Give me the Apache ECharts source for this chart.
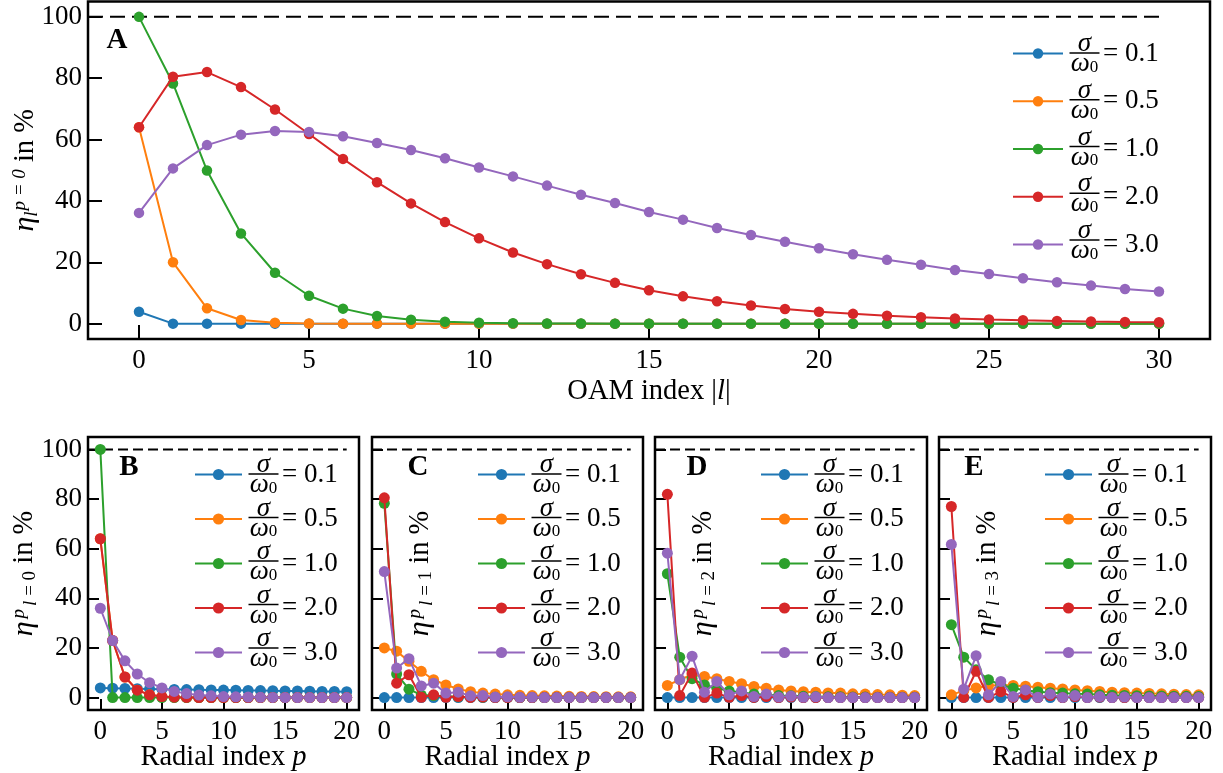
<!DOCTYPE html>
<html><head><meta charset="utf-8">
<script src="https://cdn.jsdelivr.net/npm/echarts@6/dist/echarts.min.js"></script>
<style>html,body{margin:0;padding:0;background:#fff}#c{width:1223px;height:773px}</style>
</head><body><div id="c"></div>
<script>
// ---------------- data ----------------
const ratioLabels = ['0.1', '0.5', '1.0', '2.0', '3.0'];
const colors = ['#1f77b4', '#ff7f0e', '#2ca02c', '#d62728', '#9467bd'];
const oamIndex = [0,1,2,3,4,5,6,7,8,9,10,11,12,13,14,15,16,17,18,19,20,21,22,23,24,25,26,27,28,29,30];
const radialIndex = [0,1,2,3,4,5,6,7,8,9,10,11,12,13,14,15,16,17,18,19,20];
const xTicksA = [0, 5, 10, 15, 20, 25, 30];
const xTicksP = [0, 5, 10, 15, 20];
const yTicks = [0, 20, 40, 60, 80, 100];

// Panel A: eta_l^{p=0} vs |l|
const a01 = [3.9,0,0,0,0,0,0,0,0,0,0,0,0,0,0,0,0,0,0,0,0,0,0,0,0,0,0,0,0,0,0];
const a05 = [64,20,5.0,1.2,0.3,0.07,0,0,0,0,0,0,0,0,0,0,0,0,0,0,0,0,0,0,0,0,0,0,0,0,0];
const a10 = [100,78.3,49.9,29.4,16.6,9.1,4.9,2.5,1.3,0.6,0.3,0.15,0.07,0.03,0,0,0,0,0,0,0,0,0,0,0,0,0,0,0,0,0];
const a20 = [64,80.5,82,77.1,69.8,61.8,53.7,46.1,39.2,33.1,27.8,23.2,19.4,16.1,13.3,10.9,8.9,7.3,5.9,4.8,3.9,3.2,2.6,2.1,1.7,1.35,1.1,0.9,0.72,0.58,0.47];
const a30 = [36.1,50.6,58.2,61.6,62.8,62.5,61.1,58.9,56.6,53.9,50.9,48.0,45.0,42.0,39.3,36.4,33.9,31.2,28.9,26.7,24.6,22.6,20.8,19.2,17.5,16.2,14.8,13.5,12.4,11.3,10.5];

// Panel B: l = 0
const b01 = [3.9,3.8,3.7,3.6,3.5,3.4,3.3,3.25,3.2,3.1,3.05,3.0,2.9,2.85,2.8,2.7,2.65,2.6,2.5,2.45,2.4];
const b05 = [64,23,8.3,3.0,1.1,0.4,0.15,0.05,0,0,0,0,0,0,0,0,0,0,0,0,0];
const b10 = [100,0,0,0,0,0,0,0,0,0,0,0,0,0,0,0,0,0,0,0,0];
const b20 = [64,23,8.3,3.0,1.1,0.4,0.15,0.05,0,0,0,0,0,0,0,0,0,0,0,0,0];
const b30 = [36,23,14.8,9.5,6.0,3.9,2.5,1.6,1.0,0.7,0.4,0.3,0.2,0.1,0.07,0.04,0,0,0,0,0];

// Panel C: l = 1
const c01 = [0,0,0,0,0,0,0,0,0,0,0,0,0,0,0,0,0,0,0,0,0];
const c05 = [20,18.7,14.6,10.6,7.2,5.1,3.5,2.4,1.8,1.4,1.1,0.9,0.8,0.7,0.6,0.5,0.45,0.4,0.35,0.3,0.3];
const c10 = [78.3,9.5,3.4,1.0,0.8,0.5,0.3,0.2,0.15,0.1,0.1,0,0,0,0,0,0,0,0,0,0];
const c20 = [80.5,5.8,9.2,0.1,1.1,0.1,0.4,0.05,0.2,0,0,0,0,0,0,0,0,0,0,0,0];
const c30 = [50.8,11.9,15.7,4.7,5.8,1.8,2.2,0.7,0.8,0.2,0.3,0.1,0.1,0,0,0,0,0,0,0,0];

// Panel D: l = 2
const d01 = [0,0,0,0,0,0,0,0,0,0,0,0,0,0,0,0,0,0,0,0,0];
const d05 = [4.9,7.2,9.2,8.5,7.6,6.5,5.6,4.5,3.8,3.1,2.7,2.4,2.2,1.9,1.8,1.5,1.4,1.2,1.1,0.95,0.8];
const d10 = [49.9,16.3,7.6,5.1,3.8,2.7,2.2,1.4,1.1,0.8,0.7,0.5,0.4,0.3,0.3,0.2,0.2,0.15,0.1,0.1,0.1];
const d20 = [81.9,0.8,9.9,0.1,1.8,0.1,0.8,0.05,0.4,0,0.2,0,0,0,0,0,0,0,0,0,0];
const d30 = [58.2,7.2,16.7,2.2,6.5,1.1,2.7,0.4,1.4,0.2,0.6,0.1,0.3,0,0,0,0,0,0,0,0];

// Panel E: l = 3
const e01 = [0,0,0,0,0,0,0,0,0,0,0,0,0,0,0,0,0,0,0,0,0];
const e05 = [1.1,2.8,3.9,4.8,5.1,4.9,4.6,4.2,3.8,3.5,3.1,2.8,2.5,2.2,2.0,1.8,1.65,1.5,1.35,1.2,1.1];
const e10 = [29.4,16.3,11.2,7.2,5.1,3.8,3.0,2.4,2.0,1.8,1.5,1.4,1.1,0.95,0.85,0.75,0.65,0.6,0.55,0.5,0.45];
const e20 = [77.0,0.05,10.6,0.05,2.4,0.05,1.1,0.05,0.8,0,0.4,0,0.2,0,0,0,0,0,0,0,0];
const e30 = [61.7,3.4,16.9,1.1,6.5,0.4,3.1,0.1,1.4,0.05,0.8,0,0.4,0,0.2,0,0,0,0,0,0];

// ---------------- layout ----------------
const FONT = '"Liberation Serif", "DejaVu Serif", serif';
const TICK_FS = 27, LABEL_FS = 28.5, LEG_FS = 27;
const panels = [
  {x: oamIndex, sets: [a01,a05,a10,a20,a30], grid: {left: 88, top: 1.5, width: 1122, height: 337.5},
   xmin: -1.5, xmax: 31.5, xEnd: 30, xticks: xTicksA, sym: 10.5, dash: [15, 7], tick: 14,
   letter: 'A', letterPos: [117, 41], legend: {left: 1012, top: 40, pitch: 46.75, w: 50, h: 13}},
  {x: radialIndex, sets: [b01,b05,b10,b20,b30], grid: {left: 88, top: 437, width: 271, height: 273},
   xmin: -1, xmax: 21, xEnd: 20, xticks: xTicksP, sym: 11, dash: [10, 5], tick: 11,
   letter: 'B', letterPos: [129, 468], legend: {left: 194, top: 461, pitch: 43.5, w: 47, h: 14}},
  {x: radialIndex, sets: [c01,c05,c10,c20,c30], grid: {left: 372, top: 437, width: 271, height: 273},
   xmin: -1, xmax: 21, xEnd: 20, xticks: xTicksP, sym: 11, dash: [10, 5], tick: 11,
   letter: 'C', letterPos: [418, 468], legend: {left: 477, top: 461, pitch: 43.5, w: 47, h: 14}},
  {x: radialIndex, sets: [d01,d05,d10,d20,d30], grid: {left: 655, top: 437, width: 272, height: 273},
   xmin: -1, xmax: 21, xEnd: 20, xticks: xTicksP, sym: 11, dash: [10, 5], tick: 11,
   letter: 'D', letterPos: [697, 468], legend: {left: 760, top: 461, pitch: 43.5, w: 47, h: 14}},
  {x: radialIndex, sets: [e01,e05,e10,e20,e30], grid: {left: 939, top: 437, width: 272, height: 273},
   xmin: -1, xmax: 21, xEnd: 20, xticks: xTicksP, sym: 11, dash: [10, 5], tick: 11,
   letter: 'E', letterPos: [974, 468], legend: {left: 1044, top: 461, pitch: 43.5, w: 47, h: 14}}
];
const yNames = [
  {text: '{e|η}{sbA|l}{su|p = 0}{n| in %}', gap: 47},
  {text: '{e|η}{su|p}{sbi|l}{sb| = 0}{n| in %}', gap: 48},
  {text: '{e|η}{su|p}{sbi|l}{sb| = 1}{n| in %}', gap: -64},
  {text: '{e|η}{su|p}{sbi|l}{sb| = 2}{n| in %}', gap: -64},
  {text: '{e|η}{su|p}{sbi|l}{sb| = 3}{n| in %}', gap: -64}
];
const yRich = {
  e: {fontFamily: FONT, fontStyle: 'italic', fontSize: 30, lineHeight: 31, color: '#000'},
  su: {fontFamily: FONT, fontStyle: 'italic', fontSize: 19, lineHeight: 17, verticalAlign: 'top', color: '#000', padding: [0, 0, 0, 3]},
  sbi: {fontFamily: FONT, fontStyle: 'italic', fontSize: 19, lineHeight: 17, verticalAlign: 'bottom', color: '#000', padding: [0, 0, 0, 3]},
  sb: {fontFamily: FONT, fontSize: 19, lineHeight: 17, verticalAlign: 'bottom', color: '#000'},
  sbA: {fontFamily: FONT, fontStyle: 'italic', fontSize: 19, lineHeight: 17, verticalAlign: 'bottom', color: '#000', width: 1, padding: [0, 0, 0, 2]},
  n: {fontFamily: FONT, fontSize: LABEL_FS, lineHeight: 31, color: '#000'}
};

const grids = [], xAxes = [], yAxes = [], series = [], legends = [], graphics = [];
const ROW_H = 26; // legend text row height used by the legend box layout
panels.forEach((p, gi) => {
  grids.push(Object.assign({show: true, borderColor: '#000', borderWidth: 2.5, backgroundColor: 'transparent',
    containLabel: false, outerBoundsMode: 'none'}, p.grid));
  const tickStyle = {show: true, inside: true, length: p.tick, lineStyle: {color: '#000', width: 2}};
  xAxes.push({
    gridIndex: gi, type: 'value', min: p.xmin, max: p.xmax,
    axisLine: {show: false, onZero: false}, splitLine: {show: false},
    axisTick: Object.assign({customValues: p.xticks}, tickStyle),
    axisLabel: {customValues: p.xticks, fontFamily: FONT, fontSize: TICK_FS, color: '#000', margin: 8},
    name: gi === 0 ? '{n|OAM index |}{i|l}{n||}' : '{n|Radial index }{i|p}',
    nameLocation: 'middle', nameGap: gi === 0 ? 38 : 33, nameMoveOverlap: false,
    nameTextStyle: {rich: {
      n: {fontFamily: FONT, fontSize: LABEL_FS, color: '#000', lineHeight: 30},
      i: {fontFamily: FONT, fontSize: LABEL_FS, fontStyle: 'italic', color: '#000', lineHeight: 30}}}
  });
  yAxes.push({
    gridIndex: gi, type: 'value', min: -5, max: 105,
    axisLine: {show: false, onZero: false}, splitLine: {show: false},
    axisTick: Object.assign({customValues: yTicks}, tickStyle),
    axisLabel: {show: gi <= 1, customValues: yTicks, fontFamily: FONT, fontSize: TICK_FS, color: '#000', margin: 6},
    name: yNames[gi].text, nameLocation: 'middle', nameGap: yNames[gi].gap, nameMoveOverlap: false,
    nameTextStyle: {rich: yRich}
  });
  // dashed 100 % reference line
  series.push({
    type: 'line', xAxisIndex: gi, yAxisIndex: gi, silent: true, symbol: 'none', z: 1,
    data: [[p.xmin, 100], [p.xEnd, 100]],
    lineStyle: {color: '#000', width: 2, type: p.dash}
  });
  p.sets.forEach((vals, si) => {
    series.push({
      name: ratioLabels[si], type: 'line', xAxisIndex: gi, yAxisIndex: gi, z: 2 + si,
      data: vals.map((v, i) => [p.x[i], v]),
      symbol: 'circle', symbolSize: p.sym, showSymbol: true, showAllSymbol: true,
      itemStyle: {color: colors[si]}, lineStyle: {color: colors[si], width: 2},
      emphasis: {disabled: true}
    });
  });
  const L = p.legend;
  const spW = 35;
  legends.push({
    orient: 'vertical', left: L.left, top: L.top, padding: 0, itemGap: L.pitch - ROW_H,
    itemWidth: L.w, itemHeight: L.h, selectedMode: false, data: ratioLabels,
    formatter: name => '{sp| }{t|= ' + name + '}',
    textStyle: {rich: {sp: {width: spW}, t: {fontFamily: FONT, fontSize: LEG_FS, color: '#000'}}}
  });
  const cx = L.left + L.w + 5 + spW / 2;
  ratioLabels.forEach((lab, k) => {
    const ry = L.top + ROW_H / 2 + k * L.pitch;
    graphics.push({type: 'text', x: cx, y: ry - 9, z: 100,
      style: {text: 'σ', fontFamily: FONT, fontStyle: 'italic', fontSize: 27, fill: '#000', align: 'center', verticalAlign: 'middle'}});
    graphics.push({type: 'line', z: 100, shape: {x1: cx - 15, y1: ry, x2: cx + 15, y2: ry},
      style: {stroke: '#000', lineWidth: 1.5}});
    graphics.push({type: 'text', x: cx, y: ry + 11, z: 100,
      style: {text: '{w|ω}{s|0}', align: 'center', verticalAlign: 'middle', rich: {
        w: {fontFamily: FONT, fontStyle: 'italic', fontSize: 27, fill: '#000', lineHeight: 24},
        s: {fontFamily: FONT, fontSize: 17, fill: '#000', verticalAlign: 'bottom', lineHeight: 16}}}});
  });
  graphics.push({type: 'text', x: p.letterPos[0], y: p.letterPos[1], z: 100,
    style: {text: p.letter, fontFamily: FONT, fontWeight: 'bold', fontSize: 29, fill: '#000', align: 'center', verticalAlign: 'middle'}});
});

const chart = echarts.init(document.getElementById('c'), null, {renderer: 'canvas'});
chart.setOption({
  animation: false,
  backgroundColor: '#fff',
  grid: grids, xAxis: xAxes, yAxis: yAxes, series: series, legend: legends,
  graphic: graphics
});
</script>
</body></html>
